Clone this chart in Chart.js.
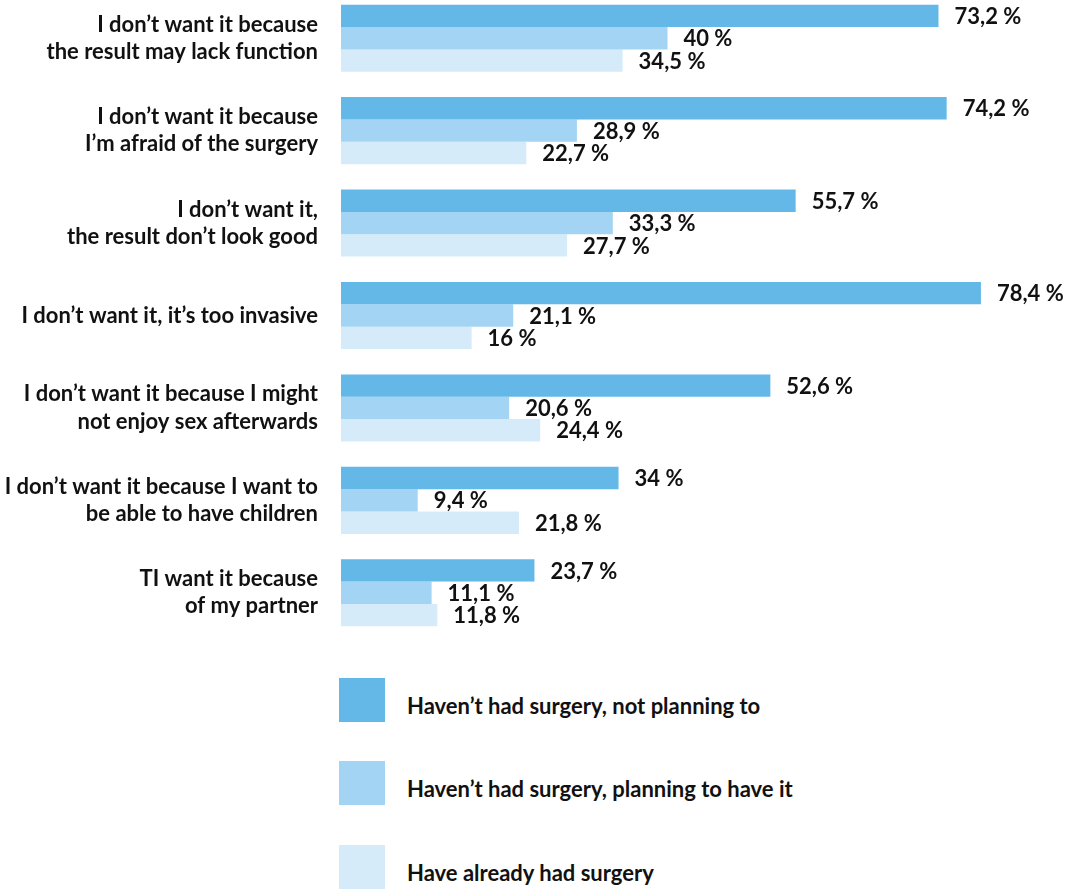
<!DOCTYPE html>
<html>
<head>
<meta charset="utf-8">
<script src="https://cdn.jsdelivr.net/npm/chart.js@4.4.1/dist/chart.umd.min.js"></script>
<style>
  html, body { margin: 0; padding: 0; background: #fff; }
  body { width: 1079px; height: 890px; position: relative; overflow: hidden; font-family: Lato, "Open Sans", sans-serif; }
  #wrap { position: absolute; left: 0; top: -8px; width: 1079px; height: 647px; }
  #legend { position: absolute; left: 339px; top: 678px; }
  .item { position: absolute; left: 0; width: 700px; height: 44px; }
  .swatch { position: absolute; left: 0; top: 0; width: 46px; height: 44px; }
  .txt { position: absolute; left: 68px; top: 15px; font-weight: 700; font-size: 22px; line-height: 26px; color: #111; white-space: nowrap; }
</style>
</head>
<body>
<div id="wrap"><canvas id="c"></canvas></div>
<div id="legend"></div>
<script>
// Reasons given, one row per reason
const categories = [
  ["I don’t want it because", "the result may lack function"],
  ["I don’t want it because", "I’m afraid of the surgery"],
  ["I don’t want it,", "the result don’t look good"],
  "I don’t want it, it’s too invasive",
  ["I don’t want it because I might", "not enjoy sex afterwards"],
  ["I don’t want it because I want to", "be able to have children"],
  ["TI want it because", "of my partner"]
];

const seriesNames = [
  "Haven’t had surgery, not planning to",
  "Haven’t had surgery, planning to have it",
  "Have already had surgery"
];

// Share of respondents (%)
const notPlanning = [73.2, 74.2, 55.7, 78.4, 52.6, 34, 23.7];
const planning    = [40, 28.9, 33.3, 21.1, 20.6, 9.4, 11.1];
const hadSurgery  = [34.5, 22.7, 27.7, 16, 24.4, 21.8, 11.8];

const colors = ["#63b8e8", "#a4d4f3", "#d5ebfa"];
const FONT = "Lato, 'Open Sans', sans-serif";

const fmt = v => String(v).replace('.', ',') + ' %';

// Value labels at the end of each bar
const valueLabels = {
  id: 'valueLabels',
  afterDatasetsDraw(chart) {
    const ctx = chart.ctx;
    ctx.save();
    ctx.font = "700 22px " + FONT;
    ctx.fillStyle = '#111';
    ctx.textBaseline = 'middle';
    ctx.textAlign = 'left';
    chart.data.datasets.forEach((ds, di) => {
      chart.getDatasetMeta(di).data.forEach((bar, i) => {
        ctx.fillText(fmt(ds.data[i]), bar.x + 16, bar.y + 1);
      });
    });
    ctx.restore();
  }
};

const chart = new Chart(document.getElementById('c'), {
  type: 'bar',
  data: {
    labels: categories,
    datasets: [notPlanning, planning, hadSurgery].map((d, i) => ({
      label: seriesNames[i],
      data: d,
      backgroundColor: colors[i],
      borderWidth: 0,
      barPercentage: 1,
      categoryPercentage: 0.726
    }))
  },
  options: {
    indexAxis: 'y',
    responsive: true,
    maintainAspectRatio: false,
    animation: false,
    layout: { padding: { left: 0, right: 85, top: 0, bottom: 0 } },
    plugins: { legend: { display: false }, tooltip: { enabled: false } },
    scales: {
      x: {
        min: 0, max: 80,
        display: false,
        grid: { display: false }
      },
      y: {
        grid: { display: false, drawTicks: false },
        border: { display: false },
        afterFit(scale) {
          scale.width = 341;
          scale.paddingTop = 0;
          scale.paddingBottom = 0;
        },
        ticks: {
          padding: 23,
          color: '#111',
          font: { family: FONT, size: 22, weight: '700', lineHeight: 1.23 }
        }
      }
    }
  },
  plugins: [valueLabels]
});

// Legend built from the series names and colours
const legend = document.getElementById('legend');
const tops = [0, 83, 167];
seriesNames.forEach((name, i) => {
  const item = document.createElement('div');
  item.className = 'item';
  item.style.top = tops[i] + 'px';
  const sw = document.createElement('div');
  sw.className = 'swatch';
  sw.style.background = colors[i];
  const t = document.createElement('div');
  t.className = 'txt';
  t.textContent = name;
  item.appendChild(sw);
  item.appendChild(t);
  legend.appendChild(item);
});
</script>
</body>
</html>
